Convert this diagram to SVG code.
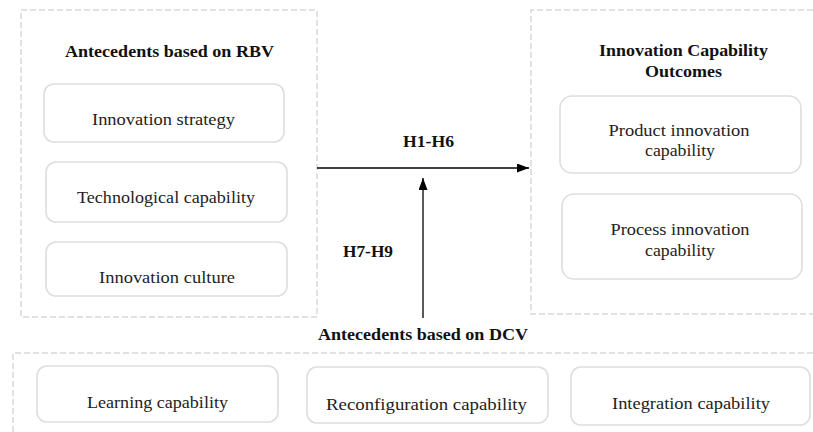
<svg xmlns="http://www.w3.org/2000/svg" width="813" height="432" viewBox="0 0 813 432">
  <style>
    .group { fill: none; stroke: #d9d9d9; stroke-width: 1.5; stroke-dasharray: 6 3; }
    .box { fill: #ffffff; stroke: #dedede; stroke-width: 1.6; }
    .label { font-family: "Liberation Serif", "DejaVu Serif", serif; font-size: 16.5px; fill: #222; text-anchor: middle; }
    .title { font-family: "Liberation Serif", "DejaVu Serif", serif; font-size: 16.5px; font-weight: bold; fill: #111; text-anchor: middle; }
    .link { stroke: #000; stroke-width: 1.3; fill: none; }
  </style>
  <defs>
    <marker id="head" viewBox="0 0 10 10" refX="10" refY="5" markerWidth="12" markerHeight="9" markerUnits="userSpaceOnUse" orient="auto" preserveAspectRatio="none">
      <path d="M0,0 L10,5 L0,10 Z" fill="#000"/>
    </marker>
  </defs>
  <rect width="813" height="432" fill="#ffffff"/>

  <!-- Resource-based antecedents -->
  <g id="rbv">
    <rect class="group" x="21" y="10" width="296" height="307"/>
    <text class="title" x="169.5" y="57" textLength="209" lengthAdjust="spacingAndGlyphs">Antecedents  based on RBV</text>
  </g>
  <g id="innovation-strategy">
    <rect class="box" x="44" y="84" width="240" height="58" rx="10"/>
    <text class="label" x="163.5" y="125" textLength="143" lengthAdjust="spacingAndGlyphs">Innovation strategy</text>
  </g>
  <g id="technological-capability">
    <rect class="box" x="46" y="162" width="241" height="60" rx="10"/>
    <text class="label" x="166" y="203" textLength="178" lengthAdjust="spacingAndGlyphs">Technological  capability</text>
  </g>
  <g id="innovation-culture">
    <rect class="box" x="46" y="242" width="241" height="54" rx="10"/>
    <text class="label" x="167" y="283" textLength="136" lengthAdjust="spacingAndGlyphs">Innovation culture</text>
  </g>

  <!-- Outcomes -->
  <g id="outcomes">
    <path class="group" d="M813,10 H531 V314 H813"/>
    <text class="title" x="683.5" y="56" textLength="169" lengthAdjust="spacingAndGlyphs">Innovation  Capability</text>
    <text class="title" x="683.5" y="77" textLength="77" lengthAdjust="spacingAndGlyphs">Outcomes</text>
  </g>
  <g id="product-innovation">
    <rect class="box" x="560" y="96" width="241" height="77" rx="12"/>
    <text class="label" x="679" y="136" textLength="141" lengthAdjust="spacingAndGlyphs">Product innovation</text>
    <text class="label" x="680" y="156" textLength="70" lengthAdjust="spacingAndGlyphs">capability</text>
  </g>
  <g id="process-innovation">
    <rect class="box" x="562" y="194" width="240" height="85" rx="12"/>
    <text class="label" x="680" y="235" textLength="139" lengthAdjust="spacingAndGlyphs">Process innovation</text>
    <text class="label" x="680" y="256" textLength="70" lengthAdjust="spacingAndGlyphs">capability</text>
  </g>

  <!-- Dynamic-capability antecedents -->
  <g id="dcv">
    <path class="group" d="M13,432 V353 H813"/>
    <text class="title" x="423" y="340" textLength="210" lengthAdjust="spacingAndGlyphs">Antecedents based on DCV</text>
  </g>
  <g id="learning-capability">
    <rect class="box" x="37" y="366" width="241" height="56" rx="10"/>
    <text class="label" x="157.5" y="408" textLength="141" lengthAdjust="spacingAndGlyphs">Learning capability</text>
  </g>
  <g id="reconfiguration-capability">
    <rect class="box" x="307" y="367" width="241" height="56" rx="10"/>
    <text class="label" x="426.5" y="410" textLength="201" lengthAdjust="spacingAndGlyphs">Reconfiguration  capability</text>
  </g>
  <g id="integration-capability">
    <rect class="box" x="571" y="367" width="239" height="58" rx="10"/>
    <text class="label" x="691" y="409" textLength="158" lengthAdjust="spacingAndGlyphs">Integration capability</text>
  </g>

  <!-- Hypothesised paths -->
  <g id="connectors">
    <line class="link" x1="317" y1="168" x2="529" y2="168" marker-end="url(#head)"/>
    <line class="link" x1="423" y1="318" x2="423" y2="178" marker-end="url(#head)"/>
    <text class="title" x="428.5" y="147" textLength="51" lengthAdjust="spacingAndGlyphs">H1-H6</text>
    <text class="title" x="368" y="257" textLength="50" lengthAdjust="spacingAndGlyphs">H7-H9</text>
  </g>
</svg>
